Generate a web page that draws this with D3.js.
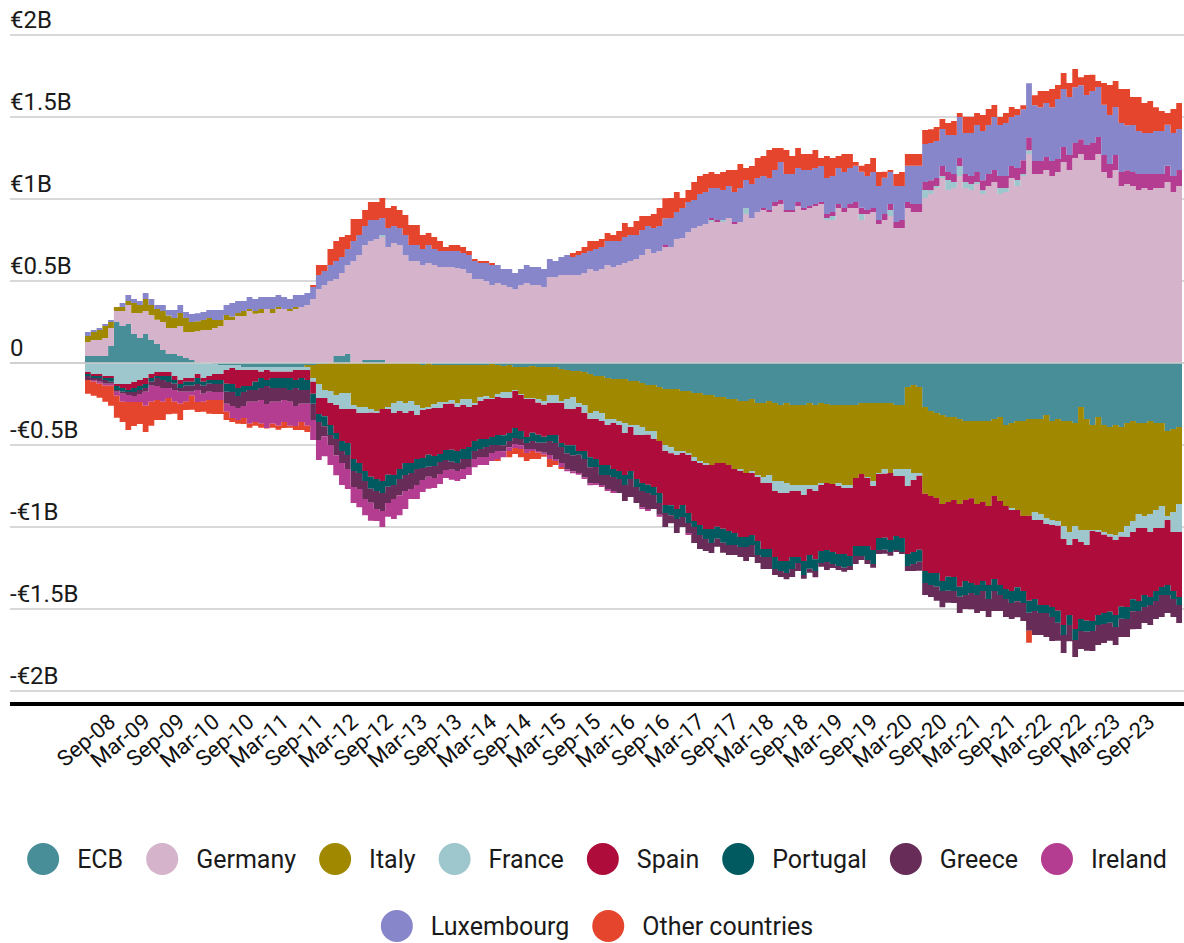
<!DOCTYPE html>
<html>
<head>
<meta charset="utf-8">
<script src="https://cdn.jsdelivr.net/npm/d3@7"></script>
<style>
  body { margin: 0; background: #fff; }
  svg { display: block; font-family: Roboto, "Noto Sans", sans-serif; }
</style>
</head>
<body>
<div id="chart"></div>
<script>
// monthly balances, May-08 .. Feb-24, in € billions as labelled on the axis
var firstMonth = new Date(2008, 4, 1);
var lastMonth = new Date(2024, 1, 1);

var seriesNames = ["ECB", "Germany", "Italy", "France", "Spain", "Portugal", "Greece", "Ireland", "Luxembourg", "Other countries"];
var colors = ["#478e99", "#d4b3cb", "#a08900", "#9dc6cd", "#ae0c3a", "#005a60", "#672c57", "#b43c91", "#8786ca", "#e6452d"];

var ecb = [
  .043,.043,.043,.043,.104,.250,.226,.238,.177,.152,
  .177,.140,.116,.079,.055,.055,.043,.030,.018,.004,
  0,0,-.006,-.012,-.012,-.012,-.012,-.024,-.024,-.024,
  -.024,-.024,-.024,-.024,-.024,-.024,-.024,-.024,-.012,-.012,
  -.006,-.006,0,.043,.043,.055,0,0,.018,.018,
  .018,.018,0,0,0,0,0,0,-.012,0,
  -.012,-.012,-.012,-.012,-.012,-.012,-.012,-.012,-.012,-.012,
  -.006,-.012,-.018,-.012,-.024,-.024,-.024,-.018,-.024,-.024,
  -.024,-.024,-.037,-.043,-.049,-.049,-.055,-.067,-.079,-.079,
  -.091,-.098,-.098,-.098,-.110,-.110,-.122,-.134,-.134,-.146,
  -.159,-.159,-.159,-.171,-.171,-.183,-.183,-.195,-.195,-.207,
  -.207,-.220,-.220,-.232,-.232,-.220,-.244,-.244,-.232,-.244,
  -.256,-.244,-.256,-.256,-.256,-.244,-.256,-.244,-.250,-.256,
  -.256,-.256,-.256,-.256,-.244,-.244,-.244,-.244,-.244,-.244,
  -.256,-.256,-.146,-.134,-.146,-.268,-.293,-.305,-.317,-.329,
  -.329,-.341,-.354,-.354,-.354,-.354,-.354,-.341,-.329,-.378,
  -.366,-.354,-.354,-.341,-.341,-.341,-.317,-.354,-.341,-.354,
  -.354,-.366,-.268,-.341,-.378,-.329,-.378,-.390,-.378,-.390,
  -.366,-.354,-.366,-.366,-.354,-.366,-.366,-.415,-.402,-.390
];

var germany = [
  .085,.097,.097,.109,.109,.067,.091,.116,.128,.153,
  .140,.153,.148,.171,.158,.158,.183,.159,.171,.189,
  .201,.201,.213,.226,.262,.262,.287,.287,.317,.301,
  .305,.329,.305,.329,.329,.317,.329,.341,.354,.390,
  .451,.476,.500,.469,.506,.543,.622,.659,.702,.726,
  .738,.750,.707,.732,.720,.659,.622,.622,.598,.610,
  .598,.585,.585,.585,.579,.573,.549,.512,.512,.500,
  .476,.488,.476,.463,.451,.476,.488,.476,.476,.463,
  .524,.524,.537,.537,.537,.537,.549,.573,.561,.573,
  .598,.585,.598,.610,.622,.634,.659,.695,.671,.683,
  .707,.707,.756,.762,.799,.823,.835,.848,.860,.860,
  .860,.884,.848,.860,.909,.884,.921,.933,.921,.957,
  .970,.921,.921,.957,.933,.945,.957,.970,.872,.872,
  .945,.921,.945,.945,.872,.909,.921,.848,.872,.896,
  .823,.823,.945,.921,.921,1.006,1.030,1.067,1.128,1.055,
  1.067,1.140,1.067,1.055,1.091,1.030,1.079,1.104,1.030,1.043,
  1.128,1.079,1.140,1.274,1.152,1.152,1.177,1.140,1.165,1.226,
  1.177,1.250,1.274,1.238,1.238,1.274,1.165,1.128,1.177,1.079,
  1.091,1.079,1.055,1.067,1.055,1.067,1.067,1.104,1.043,1.079
];

var italy = [
  .037,.049,.061,.074,.037,.024,.024,.024,.061,.049,
  .073,.061,.065,.067,.076,.061,.079,.085,.061,.061,
  .061,.073,.049,.036,.031,.021,.018,.030,.012,.016,
  .024,0,.024,.012,0,.012,.012,0,-.012,-.079,
  -.122,-.159,-.171,-.195,-.183,-.183,-.256,-.268,-.268,-.280,
  -.293,-.280,-.268,-.244,-.232,-.244,-.232,-.256,-.262,-.268,
  -.238,-.226,-.226,-.213,-.232,-.207,-.207,-.232,-.195,-.191,
  -.207,-.177,-.159,-.165,-.140,-.165,-.189,-.195,-.195,-.207,
  -.171,-.171,-.195,-.177,-.159,-.195,-.201,-.238,-.213,-.226,
  -.250,-.244,-.256,-.268,-.268,-.268,-.268,-.280,-.280,-.329,
  -.341,-.354,-.378,-.366,-.378,-.390,-.415,-.415,-.427,-.402,
  -.402,-.402,-.427,-.415,-.439,-.439,-.439,-.451,-.451,-.476,
  -.463,-.488,-.488,-.488,-.488,-.500,-.488,-.488,-.482,-.482,
  -.476,-.488,-.488,-.445,-.433,-.451,-.476,-.427,-.402,-.427,
  -.390,-.390,-.500,-.537,-.524,-.530,-.518,-.518,-.543,-.518,
  -.506,-.518,-.482,-.470,-.506,-.494,-.518,-.470,-.512,-.494,
  -.518,-.543,-.579,-.591,-.567,-.579,-.628,-.604,-.622,-.640,
  -.677,-.628,-.750,-.677,-.640,-.689,-.652,-.652,-.671,-.640,
  -.628,-.610,-.555,-.567,-.567,-.530,-.506,-.518,-.506,-.470
];

var france = [
  -.055,-.067,-.067,-.079,-.079,-.128,-.128,-.128,-.116,-.104,
  -.091,-.067,-.055,-.055,-.055,-.079,-.104,-.091,-.091,-.067,
  -.091,-.079,-.061,-.055,-.030,-.018,-.030,-.018,-.018,-.018,
  -.030,-.018,-.030,-.030,-.030,-.030,-.018,-.018,-.018,-.024,
  -.085,-.049,-.073,-.061,-.098,-.098,-.024,-.037,-.037,-.024,
  -.012,.012,-.012,-.061,-.061,-.061,-.061,-.061,-.012,-.012,
  -.024,-.037,-.012,-.024,-.024,-.037,-.049,-.012,-.024,-.016,
  -.006,-.018,-.037,-.037,-.006,-.006,-.006,-.006,-.024,-.024,
  -.049,-.049,-.012,-.061,-.073,-.024,-.049,-.037,-.049,-.049,
  -.037,-.024,-.024,-.061,-.012,-.061,-.049,-.024,-.049,0,
  -.037,-.037,-.024,-.012,-.012,-.024,-.012,-.012,.012,0,
  .012,0,0,-.012,.036,-.012,-.012,-.037,-.049,-.061,
  -.073,-.061,-.037,-.037,-.061,-.024,-.037,-.012,.012,.024,
  -.018,-.018,-.018,0,.037,-.006,-.030,-.006,-.030,.037,
  -.043,-.043,-.104,-.043,-.018,.049,.024,.012,.012,.061,
  .037,.061,.037,.037,.012,.024,0,0,.037,.024,
  -.012,.037,.012,.024,-.049,-.037,-.037,-.030,-.030,-.079,
  -.079,-.079,-.073,-.091,-.006,-.012,-.018,-.018,-.030,-.030,
  -.067,-.067,-.085,-.073,-.110,-.110,-.134,-.024,-.122,-.171
];

var spain = [
  -.012,-.012,-.012,-.012,-.012,-.012,-.024,-.037,-.037,-.037,
  -.037,-.024,-.024,-.024,-.024,-.024,-.024,-.024,-.024,-.024,
  -.024,-.024,-.037,-.037,-.085,-.098,-.110,-.098,-.098,-.073,
  -.037,-.061,-.037,-.037,-.037,-.037,-.061,-.049,-.061,-.073,
  -.098,-.110,-.134,-.171,-.195,-.207,-.305,-.305,-.354,-.390,
  -.402,-.439,-.402,-.378,-.354,-.305,-.317,-.268,-.293,-.280,
  -.293,-.280,-.280,-.280,-.268,-.268,-.244,-.220,-.232,-.244,
  -.232,-.232,-.226,-.213,-.226,-.220,-.232,-.207,-.195,-.195,
  -.195,-.195,-.244,-.220,-.220,-.268,-.232,-.232,-.244,-.268,
  -.244,-.280,-.280,-.256,-.268,-.268,-.293,-.305,-.293,-.317,
  -.329,-.317,-.329,-.317,-.354,-.366,-.378,-.390,-.390,-.390,
  -.402,-.402,-.390,-.402,-.390,-.378,-.390,-.402,-.402,-.402,
  -.415,-.415,-.402,-.402,-.402,-.402,-.415,-.402,-.408,-.415,
  -.415,-.402,-.415,-.415,-.439,-.415,-.390,-.390,-.390,-.408,
  -.366,-.378,-.415,-.439,-.451,-.470,-.470,-.457,-.470,-.457,
  -.470,-.506,-.494,-.518,-.494,-.481,-.482,-.506,-.512,-.506,
  -.494,-.470,-.457,-.518,-.482,-.518,-.494,-.500,-.518,-.524,
  -.427,-.549,-.470,-.463,-.549,-.506,-.476,-.457,-.457,-.427,
  -.427,-.409,-.445,-.409,-.396,-.384,-.360,-.396,-.360,-.396
];

var portugal = [
  -.012,-.012,-.012,-.012,-.024,-.024,-.024,-.012,-.024,-.024,
  -.024,-.024,-.012,-.024,-.037,-.024,-.024,-.024,-.024,-.037,
  -.024,-.024,-.024,-.024,-.049,-.049,-.049,-.037,-.024,-.049,
  -.061,-.037,-.061,-.061,-.061,-.073,-.049,-.073,-.061,-.061,
  -.049,-.061,-.061,-.037,-.061,-.073,-.073,-.061,-.061,-.073,
  -.073,-.073,-.073,-.061,-.061,-.073,-.061,-.061,-.061,-.073,
  -.061,-.049,-.061,-.073,-.073,-.061,-.073,-.061,-.061,-.049,
  -.049,-.061,-.061,-.049,-.061,-.049,-.037,-.049,-.049,-.037,
  -.037,-.049,-.024,-.049,-.061,-.024,-.049,-.061,-.049,-.061,
  -.061,-.049,-.049,-.061,-.049,-.049,-.049,-.049,-.049,-.061,
  -.049,-.061,-.061,-.073,-.061,-.037,-.061,-.061,-.085,-.073,
  -.085,-.085,-.073,-.061,-.061,-.061,-.085,-.049,-.049,-.073,
  -.061,-.073,-.073,-.037,-.085,-.085,-.073,-.073,-.073,-.073,
  -.073,-.085,-.061,-.061,-.061,-.085,-.085,-.073,-.073,-.073,
  -.085,-.085,-.073,-.073,-.073,-.073,-.073,-.085,-.061,-.085,
  -.085,-.061,-.085,-.061,-.061,-.061,-.085,-.073,-.061,-.061,
  -.073,-.085,-.073,-.073,-.073,-.049,-.049,-.061,-.073,-.061,
  -.061,-.067,-.073,-.067,-.061,-.061,-.067,-.067,-.073,-.073,
  -.073,-.073,-.061,-.073,-.049,-.061,-.049,-.061,-.049,-.049
];

var greece = [
  -.024,-.012,-.024,-.024,-.012,-.012,-.012,-.018,-.024,-.024,
  -.024,-.024,-.049,-.049,-.037,-.037,-.024,-.037,-.037,-.037,
  -.049,-.049,-.049,-.049,-.073,-.085,-.073,-.085,-.073,-.073,
  -.073,-.110,-.085,-.085,-.073,-.073,-.110,-.085,-.085,-.098,
  -.110,-.061,-.061,-.098,-.073,-.085,-.098,-.098,-.110,-.085,
  -.110,-.110,-.098,-.085,-.098,-.098,-.098,-.098,-.073,-.061,
  -.073,-.073,-.061,-.049,-.049,-.061,-.049,-.049,-.049,-.061,
  -.049,-.037,-.037,-.037,-.037,-.037,-.037,-.049,-.049,-.061,
  -.085,-.098,-.098,-.098,-.098,-.110,-.110,-.098,-.098,-.061,
  -.085,-.085,-.085,-.098,-.110,-.098,-.098,-.098,-.085,-.073,
  -.085,-.049,-.085,-.061,-.061,-.098,-.085,-.073,-.061,-.049,
  -.061,-.061,-.061,-.061,-.085,-.073,-.049,-.073,-.073,-.037,
  -.037,-.037,-.049,-.049,-.024,-.024,-.037,-.024,-.049,-.024,
  -.024,-.024,-.024,-.049,-.024,-.024,-.024,-.024,-.024,-.024,
  -.012,-.012,-.030,-.043,-.055,-.073,-.073,-.085,-.098,-.073,
  -.073,-.098,-.085,-.098,-.110,-.122,-.110,-.122,-.098,-.110,
  -.098,-.098,-.110,-.110,-.146,-.134,-.146,-.146,-.110,-.110,
  -.098,-.104,-.110,-.116,-.122,-.122,-.116,-.110,-.110,-.110,
  -.110,-.110,-.110,-.098,-.122,-.110,-.134,-.110,-.110,-.110
];

var ireland = [
  0,-.012,-.012,-.012,-.012,-.024,-.049,-.043,-.037,-.049,
  -.085,-.098,-.085,-.085,-.061,-.073,-.073,-.061,-.024,-.073,
  -.049,-.049,-.049,-.049,-.049,-.073,-.073,-.073,-.134,-.122,
  -.146,-.146,-.134,-.146,-.134,-.146,-.122,-.110,-.134,-.122,
  -.122,-.122,-.122,-.122,-.134,-.122,-.098,-.110,-.098,-.110,
  -.073,-.098,-.085,-.122,-.122,-.110,-.061,-.085,-.073,-.073,
  -.061,-.061,-.049,-.061,-.061,-.061,-.049,-.049,-.049,-.049,
  -.049,-.049,-.037,-.024,-.024,-.024,-.024,-.012,-.012,-.012,
  -.024,-.012,-.024,-.012,-.012,-.012,-.012,-.012,-.012,-.012,
  -.012,-.012,0,0,0,0,-.012,-.012,0,-.012,
  .012,0,0,0,-.012,0,0,0,.012,.012,
  0,0,.012,0,0,0,0,.012,.012,.025,
  .024,.012,.012,.025,.012,.012,.013,.012,.024,.024,
  .024,.024,.024,.037,.037,.024,.024,.024,.037,.037,
  .037,.049,.037,.049,.049,.049,.061,.049,.061,.049,
  .049,.049,.049,.049,.061,.061,.073,.073,.073,.073,
  .073,.073,.085,.079,.079,.079,.079,.091,.079,.091,
  .091,.091,.091,.091,.104,.104,.104,.085,.091,.085,
  .085,.085,.098,.085,.098,.085,.085,.098,.098,.098
];

var luxembourg = [
  .024,.012,.012,.012,.012,0,.025,.037,.024,.024,
  .037,.036,.025,.037,.034,.049,.049,.037,.049,.049,
  .049,.049,.061,.061,.061,.083,.073,.061,.073,.073,
  .073,.073,.073,.074,.073,.061,.074,.074,.073,.073,
  .086,.085,.098,.110,.097,.097,.122,.121,.115,.128,
  .116,.104,.116,.103,.103,.121,.098,.098,.097,.110,
  .097,.098,.098,.098,.104,.098,.110,.110,.098,.110,
  .122,.110,.097,.110,.098,.097,.110,.109,.109,.110,
  .110,.098,.109,.122,.109,.122,.122,.110,.134,.134,
  .146,.159,.146,.158,.158,.146,.152,.140,.152,.152,
  .164,.177,.165,.183,.183,.171,.195,.195,.183,.195,
  .183,.195,.183,.207,.171,.207,.207,.195,.195,.195,
  .232,.219,.219,.207,.232,.220,.219,.219,.220,.220,
  .220,.220,.220,.220,.220,.207,.220,.207,.220,.195,
  .220,.207,.220,.232,.232,.232,.226,.226,.226,.226,
  .238,.250,.250,.262,.287,.299,.299,.323,.311,.323,
  .299,.323,.311,.329,.341,.329,.329,.329,.366,.354,
  .354,.341,.329,.305,.317,.305,.305,.299,.293,.299,
  .274,.287,.262,.250,.250,.262,.262,.250,.262,.250
];

var others = [
  -.085,-.085,-.085,-.098,-.122,-.134,-.122,-.171,-.146,-.134,
  -.159,-.146,-.122,-.110,-.098,-.073,-.098,-.049,-.085,-.061,
  -.061,-.085,-.085,-.085,-.049,-.024,-.024,-.037,-.024,-.024,
  -.024,-.004,-.024,-.024,-.037,-.012,-.024,-.049,-.037,.013,
  .061,.037,.097,.122,.122,.085,.134,.098,.098,.110,
  .110,.122,.122,.122,.110,.122,.121,.121,.085,.073,
  .073,.061,.024,.037,.037,.036,.024,.012,.012,.012,
  .012,-.012,0,-.037,-.037,-.049,-.049,-.049,-.037,-.012,
  -.049,-.024,-.012,0,.025,.024,.036,.061,.049,.049,
  .049,.036,.061,.086,.049,.086,.085,.061,.086,.110,
  .122,.122,.122,.061,.073,.110,.110,.109,.098,.085,
  .110,.098,.134,.146,.073,.110,.122,.122,.171,.134,
  .085,.147,.110,.122,.097,.097,.110,.049,.134,.110,
  .073,.110,.085,.024,.037,.073,.085,.085,.037,.012,
  .073,.085,.073,.073,.073,.085,.085,.085,.061,.073,
  .085,.024,.098,.098,.073,.098,.098,.073,.049,.061,
  .061,.037,.024,-.073,.061,.098,.073,.110,.085,.098,
  .085,.110,.049,.122,.098,.037,.134,.183,.159,.207,
  .220,.171,.207,.183,.195,.146,.122,.073,.146,.159
];

var yTicks = [2, 1.5, 1, 0.5, 0, -0.5, -1, -1.5, -2];
var yTickLabels = ["€2B", "€1.5B", "€1B", "€0.5B", "0", "-€0.5B", "-€1B", "-€1.5B", "-€2B"];
var xTickLabels = ["Sep-08", "Mar-09", "Sep-09", "Mar-10", "Sep-10", "Mar-11", "Sep-11", "Mar-12",
  "Sep-12", "Mar-13", "Sep-13", "Mar-14", "Sep-14", "Mar-15", "Sep-15", "Mar-16", "Sep-16",
  "Mar-17", "Sep-17", "Mar-18", "Sep-18", "Mar-19", "Sep-19", "Mar-20", "Sep-20", "Mar-21",
  "Sep-21", "Mar-22", "Sep-22", "Mar-23", "Sep-23"];

var W = 1184, H = 943;
var fmt = d3.timeFormat("%b-%y");
var months = d3.timeMonth.range(firstMonth, d3.timeMonth.offset(lastMonth, 1));
var keys = months.map(fmt);

var allSeries = [ecb, germany, italy, france, spain, portugal, greece, ireland, luxembourg, others];
var rows = months.map(function (m, i) {
  var r = { key: keys[i] };
  seriesNames.forEach(function (n, s) { r[n] = allSeries[s][i]; });
  return r;
});

var svg = d3.select("#chart").append("svg")
  .attr("width", W).attr("height", H);

var x = d3.scaleBand().domain(keys).range([85, 1182]).padding(0);
var y = d3.scaleLinear().domain([-2, 2]).range([691, 35]);

// grid
svg.append("g").selectAll("line").data(yTicks).enter().append("line")
  .attr("x1", 10).attr("x2", W)
  .attr("y1", function (d) { return y(d); })
  .attr("y2", function (d) { return y(d); })
  .attr("stroke", "#cccccc").attr("stroke-width", 1.5);

svg.append("g").selectAll("text").data(yTicks).enter().append("text")
  .attr("x", 10)
  .attr("y", function (d) { return y(d) - 7; })
  .attr("font-size", 24)
  .attr("fill", "#1a1a1a")
  .text(function (d, i) { return yTickLabels[i]; });

var stack = d3.stack().keys(seriesNames).offset(d3.stackOffsetDiverging);
var stacked = stack(rows);

var area = d3.area()
  .x(function (p) { return p[0]; })
  .y0(function (p) { return y(p[1]); })
  .y1(function (p) { return y(p[2]); })
  .curve(d3.curveStepAfter);

var bw = x.bandwidth();
svg.append("g").selectAll("path").data(stacked).enter().append("path")
  .attr("fill", function (d, i) { return colors[i]; })
  .attr("d", function (s) {
    var pts = s.map(function (d) { return [x(d.data.key), d[0], d[1]]; });
    var last = s[s.length - 1];
    pts.push([x(last.data.key) + bw, last[0], last[1]]);
    return area(pts);
  });

// zero line sits on top of the stacks
svg.append("line")
  .attr("x1", 10).attr("x2", W)
  .attr("y1", y(0)).attr("y2", y(0))
  .attr("stroke", "#cccccc").attr("stroke-width", 1.5);

// heavy baseline
svg.append("line")
  .attr("x1", 10).attr("x2", W)
  .attr("y1", 704).attr("y2", 704)
  .attr("stroke", "#000").attr("stroke-width", 4);

svg.append("g").selectAll("text").data(xTickLabels).enter().append("text")
  .attr("transform", function (d) {
    var cx = x(keys[keys.indexOf(d)]) + bw / 2 + 6;
    return "translate(" + cx + ",724) rotate(-40)";
  })
  .attr("text-anchor", "end")
  .attr("font-size", 22)
  .attr("fill", "#111")
  .text(function (d) { return d; });

// legend
var legendRows = [seriesNames.slice(0, 8), seriesNames.slice(8)];
var legendY = [859, 926];
var r = 16, textGap = 18, itemGap = 23;

legendRows.forEach(function (names, ri) {
  var g = svg.append("g");
  var items = names.map(function (n) {
    var t = g.append("text").attr("font-size", 25).attr("fill", "#1a1a1a").text(n);
    return { name: n, node: t, w: t.node().getComputedTextLength() };
  });
  var total = d3.sum(items, function (it) { return 2 * r + textGap + it.w; }) + itemGap * (items.length - 1);
  var cx = 597 - total / 2;
  items.forEach(function (it) {
    g.append("circle")
      .attr("cx", cx + r).attr("cy", legendY[ri]).attr("r", r)
      .attr("fill", colors[seriesNames.indexOf(it.name)]);
    it.node.attr("x", cx + 2 * r + textGap).attr("y", legendY[ri] + 9);
    cx += 2 * r + textGap + it.w + itemGap;
  });
});
</script>
</body>
</html>
